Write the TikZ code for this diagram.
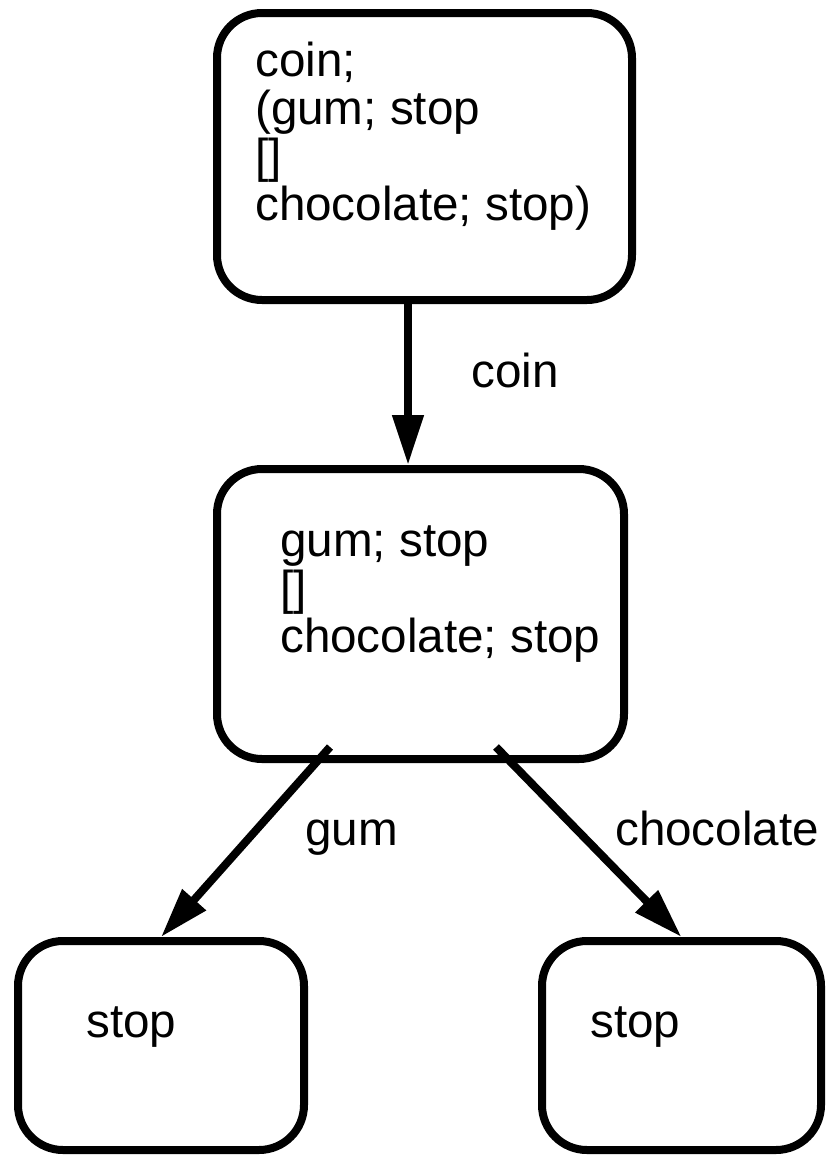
\documentclass[tikz,border=0pt]{standalone}
\usepackage{fontspec}
\setmainfont{Liberation Sans}
\usetikzlibrary{arrows.meta}
\tikzset{
  statebox/.style={draw, line width=8pt, rounded corners=45pt, inner sep=0pt, minimum width=#1},
  statebox/.default=300pt,
  proc/.style={inner sep=0pt, anchor=base west, align=left, font=\fontsize{47.6}{48}\selectfont},
  lbl/.style={inner sep=0pt, anchor=base west, font=\fontsize{47.6}{48}\selectfont},
  trans/.style={line width=8pt, -{Triangle[length=50pt,width=30pt]}}
}
\begin{document}
\begin{tikzpicture}[x=1pt,y=-1pt]
\useasboundingbox (0,0) rectangle (825,1157);
% boxes
\node[statebox=415pt, minimum height=287pt] (top) at (424.5,156.5) {};
\node[statebox=407pt, minimum height=290pt] (mid) at (420.5,614) {};
\node[statebox=286pt, minimum height=209pt] (left) at (161,1045.5) {};
\node[statebox=279pt, minimum height=209pt] (right) at (681.5,1045.5) {};
% texts
\node[proc] (ttop) at (255,220) {coin;\\(gum; stop\\{[]}\\chocolate; stop)};
\node[proc] (tmid) at (280,652) {gum; stop\\{[]}\\chocolate; stop};
\node[lbl] (tleft) at (86,1037) {stop};
\node[lbl] (tright) at (590,1037) {stop};
% connectors
\coordinate (cx) at (408,0);
\draw[trans] (top.south -| cx) -- (mid.north -| cx);
\coordinate (g0) at (330,747);
\coordinate (h0) at (496,747);
\draw[trans] (g0) -- (left.north);
\draw[trans] (h0) -- (right.north);
% labels
\node[lbl] (lcoin) at (471,387) {coin};
\node[lbl] (lgum) at (305,845) {gum};
\node[lbl] (lchoc) at (615,845) {chocolate};
\end{tikzpicture}
\end{document}
